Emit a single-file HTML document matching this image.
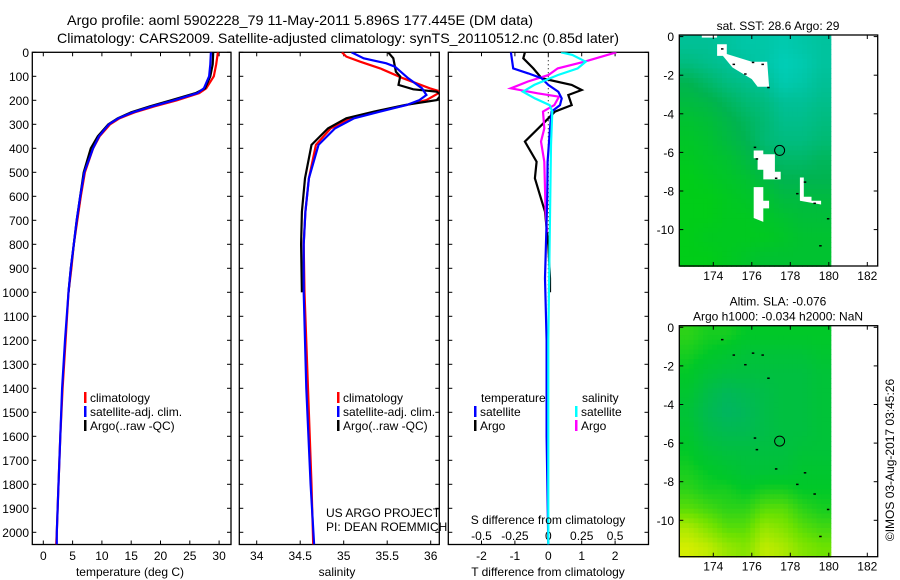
<!DOCTYPE html>
<html><head><meta charset="utf-8"><style>
html,body{margin:0;padding:0;background:#fff}
svg{display:block;font-family:"Liberation Sans",sans-serif}
text{fill:#000}
</style></head><body>
<svg id="fig" width="900" height="580" viewBox="0 0 900 580" xmlns="http://www.w3.org/2000/svg">
<rect width="900" height="580" fill="#fff"/>
<text x="67" y="25" font-size="14" textLength="466" lengthAdjust="spacingAndGlyphs">Argo profile: aoml 5902228_79 11-May-2011 5.896S 177.445E (DM data)</text>
<text x="57" y="43" font-size="14" textLength="562" lengthAdjust="spacingAndGlyphs">Climatology: CARS2009. Satellite-adjusted climatology: synTS_20110512.nc (0.85d later)</text>
<g id="g"></g>
</svg>
<script>
// ---- data ----
const tempDepthClim=[0,50,100,150,170,200,225,250,275,300,350,400,500,600,700,800,900,1000,1200,1400,1600,1800,2000,2050];
const tempClim=[29.8,29.5,29.1,27.8,26.6,22.8,19,15.6,13,11.4,9.6,8.5,7.1,6.4,5.8,5.2,4.8,4.3,3.8,3.3,2.9,2.6,2.3,2.2];
const tempSat=[28.6,28.5,28.3,27.4,26.3,22.3,18.6,15.3,12.8,11.2,9.5,8.5,7.0,6.3,5.7,5.2,4.7,4.3,3.7,3.2,2.9,2.6,2.3,2.3];
const tempDepthArgo=[0,50,100,150,170,200,225,250,275,300,350,400,500,600,700,800,900,1000];
const tempArgo=[29.0,28.9,28.5,27.6,26.0,21.8,18.2,15.0,12.7,11.1,9.3,8.1,6.9,6.3,5.7,5.2,4.7,4.3];

const salDepthClim=[0,18,39,67,108,150,164,199,220,247,275,317,386,525,664,800,1000,1400,1800,2050];
const salClim=[34.98,35.03,35.19,35.42,35.68,35.99,36.12,35.95,35.72,35.38,35.07,34.85,34.68,34.6,34.56,34.54,34.55,34.59,34.63,34.65];
const salDepthSat=[0,25,46,60,108,150,178,199,220,247,275,317,386,525,664,800,1000,1400,1800,2050];
const salSat=[35.09,35.23,35.49,35.59,35.74,35.9,35.95,35.87,35.72,35.42,35.12,34.9,34.71,34.6,34.56,34.54,34.54,34.57,34.62,34.66];
const salDepthArgo=[0,25,81,101,136,154,164,178,199,220,247,275,317,386,525,664,800,1000];
const salArgo=[35.51,35.57,35.6,35.65,35.63,35.8,36.07,36.12,36.07,35.7,35.35,35.03,34.82,34.63,34.555,34.52,34.51,34.52];

const tdDepthSat=[0,67,88,108,136,164,192,220,247,317,456,600,942,1200,1600,2050];
const tdSat=[-1.12,-1.05,-0.6,-0.2,0,0.3,0.4,0.35,0.1,0.05,-0.02,-0.03,-0.1,-0.05,-0.05,0];
const tdDepthArgo=[0,25,67,108,136,157,178,220,247,289,372,456,525,594,664,803,942,1000];
const tdArgo=[-0.7,-0.75,-0.45,-0.2,0.7,1.0,0.6,0.7,0.2,-0.1,-0.7,-0.35,-0.4,-0.25,-0.1,0,0.05,0.05];
const sdDepthSat=[0,11,39,67,95,136,164,192,220,247,386,800,1200,2050];
const sdSat=[0.095,0.18,0.28,0.22,0.07,-0.105,-0.19,-0.1,0.01,0.03,0.02,0.01,0.0,0.0];
const sdDepthArgo=[0,39,67,95,122,150,171,185,220,247,317,372,456,664,750];
const sdArgo=[0.51,0.27,0.07,0,-0.155,-0.28,-0.08,0.08,0.045,-0.04,-0.03,-0.055,-0.03,-0.02,-0.01];

const depthTicks=[0,100,200,300,400,500,600,700,800,900,1000,1100,1200,1300,1400,1500,1600,1700,1800,1900,2000];
const tempTicks=[0,5,10,15,20,25,30];
const salTicks=[34,34.5,35,35.5,36];
const tdTicks=[-2,-1,0,1,2];
const sdTicks=[-0.5,-0.25,0,0.25,0.5];
const sdTickLabels=["-0.5","-0.25","0","0.25","0.5"];
const lonTicks=[174,176,178,180,182];
const latTicks=[0,-2,-4,-6,-8,-10];

// SST map grid (rows lat 0..-12, cols lon 172.2..180), 0=green,1=cyan
const sstGrid=[
[0.7,0.7,0.75,0.8,0.8,0.85,0.8,0.75],
[0.6,0.65,0.7,0.75,0.8,0.9,0.85,0.75],
[0.4,0.5,0.6,0.65,0.7,0.85,0.8,0.7],
[0.3,0.35,0.45,0.55,0.6,0.7,0.7,0.65],
[0.2,0.25,0.35,0.45,0.55,0.65,0.65,0.6],
[0.15,0.2,0.3,0.4,0.55,0.6,0.6,0.55],
[0.1,0.15,0.2,0.3,0.45,0.5,0.5,0.45],
[0.05,0.1,0.15,0.2,0.3,0.4,0.4,0.4],
[0.05,0.05,0.1,0.15,0.2,0.3,0.3,0.3],
[0.05,0.05,0.1,0.1,0.15,0.2,0.25,0.25],
[0.05,0.1,0.1,0.1,0.1,0.15,0.2,0.2],
[0.05,0.05,0.1,0.15,0.2,0.2,0.2,0.2]];
// SLA map grid, 0=teal-green, 1=yellow
const slaGrid=[
[0.55,0.5,0.5,0.45,0.45,0.45,0.45,0.45],
[0.5,0.45,0.4,0.35,0.35,0.35,0.35,0.4],
[0.45,0.35,0.3,0.3,0.3,0.3,0.3,0.35],
[0.4,0.25,0.15,0.2,0.25,0.3,0.3,0.35],
[0.35,0.2,0.1,0.15,0.25,0.3,0.3,0.35],
[0.4,0.25,0.2,0.2,0.25,0.3,0.3,0.35],
[0.45,0.35,0.3,0.3,0.3,0.3,0.35,0.35],
[0.5,0.45,0.4,0.35,0.35,0.35,0.4,0.4],
[0.55,0.5,0.5,0.45,0.5,0.5,0.45,0.45],
[0.65,0.6,0.55,0.55,0.65,0.65,0.55,0.5],
[0.85,0.75,0.65,0.65,0.8,0.75,0.65,0.6],
[0.95,0.9,0.8,0.75,0.9,0.85,0.75,0.7]];
const islands=[
[[174.2,-0.4],[174.7,-0.4],[174.7,-0.9],[176.0,-1.3],[176.8,-1.3],[176.9,-2.6],[176.3,-2.6],[176.0,-2.2],[175.0,-1.6],[174.5,-1.0],[174.2,-1.0]],
[[176.1,-5.9],[176.6,-5.9],[176.6,-6.1],[177.2,-6.1],[177.2,-7.0],[177.5,-7.0],[177.5,-7.4],[176.6,-7.4],[176.6,-6.9],[176.3,-6.9],[176.3,-6.3],[176.1,-6.3]],
[[176.1,-7.8],[176.6,-7.8],[176.6,-8.5],[176.9,-8.5],[176.9,-8.9],[176.6,-8.9],[176.6,-9.6],[176.1,-9.4]],
[[178.5,-7.3],[178.7,-7.3],[178.7,-8.3],[179.1,-8.3],[179.1,-8.5],[179.6,-8.5],[179.6,-8.7],[178.5,-8.5]],
[[173.4,0.1],[174.2,0.1],[174.2,-0.05],[173.4,-0.05]]];
const floatLon=177.445, floatLat=-5.896;

// ---- drawing ----
const NS="http://www.w3.org/2000/svg";
const G=document.getElementById('g');
function el(tag,attrs,parent){const e=document.createElementNS(NS,tag);for(const k in attrs)e.setAttribute(k,attrs[k]);(parent||G).appendChild(e);return e;}
function txt(s,x,y,anchor,size,parent){const t=el('text',{x:x,y:y,'text-anchor':anchor||'start','font-size':size||12},parent);t.textContent=s;return t;}

const TOP=52.3,BOT=544.5;
const yD=d=>TOP+0.24*d;
function panel(name,x0,x1,xf,xticks,xlabels,xlabelY){
  const g=el('g',{});
  
  
  el('rect',{x:x0,y:TOP,width:x1-x0,height:BOT-TOP,fill:'none',stroke:'#000','stroke-width':1.3},g);
  depthTicks.forEach(d=>{el('line',{x1:x0,x2:x0+4,y1:yD(d),y2:yD(d),stroke:'#000'},g);el('line',{x1:x1-4,x2:x1,y1:yD(d),y2:yD(d),stroke:'#000'},g);});
  xticks.forEach((v,i)=>{const x=xf(v);el('line',{x1:x,x2:x,y1:TOP,y2:TOP+4,stroke:'#000'},g);el('line',{x1:x,x2:x,y1:BOT-4,y2:BOT,stroke:'#000'},g);
    if(xlabels){const t=txt(xlabels[i],x,xlabelY,'middle',12,g);}});
  return g;
}
function series(name,depths,vals,xf,color,parent){
  const pts=depths.map((d,i)=>xf(vals[i]).toFixed(1)+','+yD(d).toFixed(1)).join(' ');
  const p=el('polyline',{points:pts,fill:'none',stroke:color,'stroke-width':2.2,'stroke-linejoin':'miter'},parent);
  
  
}
function clip(id,x0,x1){const d=el('clipPath',{id:id});el('rect',{x:x0,y:TOP,width:x1-x0,height:BOT-TOP},d);}

// Panel 1 temperature
const xT=t=>43.3+5.86*t;
const p1=panel('temperature-panel',32.3,231,xT,tempTicks,tempTicks.map(String),560);
depthTicks.forEach(d=>{const t=txt(String(d),29,yD(d)+4.5,'end',12);});
clip('c1',32.3,231);
const s1=el('g',{'clip-path':'url(#c1)'});
series('temp-climatology-line',tempDepthClim,tempClim,xT,'#f00',s1);
series('temp-argo-line',tempDepthArgo,tempArgo,xT,'#000',s1);
series('temp-satellite-line',tempDepthClim,tempSat,xT,'#00f',s1);
let t=txt('temperature (deg C)',130,576,'middle',12);

// Panel 2 salinity
const xS=s=>256.7+87*(s-34);
panel('salinity-panel',239.3,439.3,xS,salTicks,['34','34.5','35','35.5','36'],560);
clip('c2',239.3,439.3);
const s2=el('g',{'clip-path':'url(#c2)'});
series('sal-climatology-line',salDepthClim,salClim,xS,'#f00',s2);
series('sal-argo-line',salDepthArgo,salArgo,xS,'#000',s2);
series('sal-satellite-line',salDepthSat,salSat,xS,'#00f',s2);
t=txt('salinity',337,576,'middle',12);

// Panel 3 differences
const xTD=v=>548.3+33.4*v;
const xSD=v=>548.3+133.6*v;
panel('difference-panel',448.3,648.5,xTD,tdTicks,['-2','-1','0','1','2'],560);
el('line',{x1:548.3,x2:548.3,y1:TOP,y2:BOT,stroke:'#000','stroke-dasharray':'1,3','stroke-width':1});
sdTicks.forEach((v,i)=>{const t=txt(sdTickLabels[i],xSD(v),540,'middle',12);});
clip('c3',448.3,648.5);
const s3=el('g',{'clip-path':'url(#c3)'});
series('tdiff-argo-line',tdDepthArgo,tdArgo,xTD,'#000',s3);
series('sdiff-argo-line',sdDepthArgo,sdArgo,xSD,'#f0f',s3);
series('tdiff-satellite-line',tdDepthSat,tdSat,xTD,'#00f',s3);
series('sdiff-satellite-line',sdDepthSat,sdSat,xSD,'#0ff',s3);
t=txt('S difference from climatology',548,524,'middle',12);
t=txt('T difference from climatology',548,576,'middle',12);

// Legends
function legend(name,x,y,label,color){const g=el('g',{});
  el('rect',{x:x,y:y-10,width:2.5,height:11,fill:color},g);txt(label,x+6,y,'start',12,g);}
legend('legend-climatology',84,402,'climatology','#f00');
legend('legend-satellite-adj',84,416,'satellite-adj. clim.','#00f');
legend('legend-argo',84,430,'Argo(..raw -QC)','#000');
legend('legend-climatology-2',337,402,'climatology','#f00');
legend('legend-satellite-adj-2',337,416,'satellite-adj. clim.','#00f');
legend('legend-argo-2',337,430,'Argo(..raw -QC)','#000');
t=txt('temperature',481,402,'start',12);
legend('legend-t-satellite',474,416,'satellite','#00f');
legend('legend-t-argo',474,430,'Argo','#000');
t=txt('salinity',582,402,'start',12);
legend('legend-s-satellite',575,416,'satellite','#0ff');
legend('legend-s-argo',575,430,'Argo','#f0f');
t=txt('US ARGO PROJECT',326,517,'start',12);
t=txt('PI: DEAN ROEMMICH',326,531,'start',12);

// Maps
function lerpColor(stops,v){v=Math.max(0,Math.min(1,v));for(let i=1;i<stops.length;i++){if(v<=stops[i][0]){const a=stops[i-1],b=stops[i],f=(v-a[0])/(b[0]-a[0]);return 'rgb('+[1,2,3].map(k=>Math.round(a[k]+(b[k]-a[k])*f)).join(',')+')';}}const l=stops[stops.length-1];return 'rgb('+l[1]+','+l[2]+','+l[3]+')';}
const sstStops=[[0,0,208,16],[0.4,0,180,80],[0.7,0,192,150],[1,0,212,200]];
const slaStops=[[0,0,176,112],[0.45,0,200,40],[0.7,110,226,0],[1,232,240,0]];
function sample(grid,r,c){const R=grid.length,C=grid[0].length;r=Math.max(0,Math.min(R-1,r));c=Math.max(0,Math.min(C-1,c));const r0=Math.floor(r),c0=Math.floor(c),r1=Math.min(R-1,r0+1),c1=Math.min(C-1,c0+1),fr=r-r0,fc=c-c0;
  return grid[r0][c0]*(1-fr)*(1-fc)+grid[r0][c1]*(1-fr)*fc+grid[r1][c0]*fr*(1-fc)+grid[r1][c1]*fr*fc;}
function map(name,top,grid,stops,showIslands,titles){
  const lat0y=top+1.6;
  const X=lon=>713.3+19.25*(lon-174), Y=lat=>lat0y-19.3*lat;
  const x0=679.3,x1=877.7,y0=top,y1=top+231;
  const g=el('g',{});
  const lonA=172.24,lonB=180.1,latA=0.1,latB=-11.9;
  const R=grid.length,C=grid[0].length,sub=4;
  const dl=(lonB-lonA)/C/sub, dp=(latA-latB)/R/sub;
  for(let i=0;i<R*sub;i++)for(let j=0;j<C*sub;j++){
    const v=sample(grid,(i+0.5)/sub-0.5,(j+0.5)/sub-0.5);
    const lx=lonA+j*dl, ly=latA-i*dp;
    const r=el('rect',{x:X(lx).toFixed(2),y:Y(ly).toFixed(2),width:(dl*19.25+0.6).toFixed(2),height:(dp*19.3+0.6).toFixed(2),fill:lerpColor(stops,v)},g);
    
  }
  if(showIslands) islands.forEach(poly=>{const p=el('polygon',{points:poly.map(q=>X(q[0]).toFixed(1)+','+Y(q[1]).toFixed(1)).join(' '),fill:'#fff'},g);});
  // coast specks
  [[174.4,-0.6],[175.0,-1.4],[176.0,-1.3],[176.5,-1.4],[175.6,-1.9],[176.8,-2.6],[176.1,-5.7],[176.2,-6.3],[177.2,-7.3],[178.3,-8.1],[179.2,-8.6],[179.9,-9.4],[179.5,-10.8],[178.7,-7.5]].forEach(q=>{const s=el('rect',{x:X(q[0]),y:Y(q[1]),width:2.5,height:1.5,fill:'#000'},g);});
  const c=el('circle',{cx:X(floatLon),cy:Y(floatLat),r:5,fill:'none',stroke:'#000','stroke-width':1},g);
  
  el('rect',{x:x0,y:y0,width:x1-x0,height:y1-y0,fill:'none',stroke:'#000','stroke-width':1.3},g);
  lonTicks.forEach(l=>{const x=X(l);el('line',{x1:x,x2:x,y1:y0,y2:y0+4,stroke:'#000'},g);el('line',{x1:x,x2:x,y1:y1-4,y2:y1,stroke:'#000'},g);txt(String(l),x,y1+14,'middle',12,g);});
  latTicks.forEach(l=>{const y=Y(l);el('line',{x1:x0,x2:x0+4,y1:y,y2:y,stroke:'#000'},g);el('line',{x1:x1-4,x2:x1,y1:y,y2:y,stroke:'#000'},g);txt(String(l),674,y+4.5,'end',12,g);});
  titles.forEach((s,i)=>{const tt=txt(s,778,top-(titles.length-i)*15+10,'middle',12,g);});
}
map('sst-map',35,sstGrid,sstStops,true,['sat. SST: 28.6 Argo: 29']);
map('sla-map',325.7,slaGrid,slaStops,false,['Altim. SLA: -0.076','Argo h1000: -0.034 h2000: NaN']);
t=txt('©IMOS 03-Aug-2017 03:45:26',0,0,'middle',12);
t.setAttribute('transform','translate(894,460) rotate(-90)');


</script>
</body></html>
